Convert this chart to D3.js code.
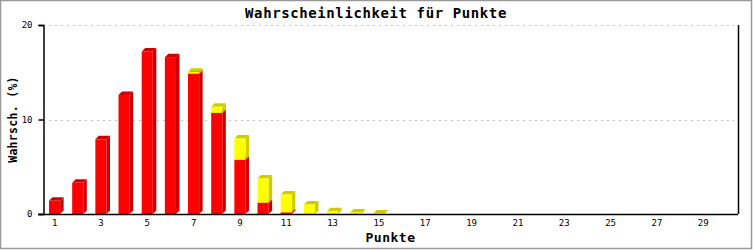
<!DOCTYPE html>
<html><head><meta charset="utf-8">
<script src="https://cdn.jsdelivr.net/npm/d3@7"></script>
<style>
html,body{margin:0;padding:0;background:#fff;}
svg{display:block;}
text{font-family:"DejaVu Sans Mono","Liberation Mono",monospace;fill:#000;}
</style></head>
<body>
<script>
const categories = d3.range(1, 31);
const tickLabels = [1,3,5,7,9,11,13,15,17,19,21,23,25,27,29];
const yTicks = [0, 10, 20];
const redValues = [1.39, 3.3, 7.9, 12.6, 17.2, 16.6, 14.85, 10.7, 5.73, 1.19, 0.17, 0, 0, 0, 0, 0, 0, 0, 0, 0, 0, 0, 0, 0, 0, 0, 0, 0, 0, 0];
const yellowValues = [0, 0, 0, 0, 0, 0, 0.2, 0.66, 2.25, 2.57, 1.9, 1.01, 0.28, 0.17, 0.05, 0, 0, 0, 0, 0, 0, 0, 0, 0, 0, 0, 0, 0, 0, 0];
const titleText = "Wahrscheinlichkeit für Punkte";
const xLabel = "Punkte";
const yLabel = "Wahrsch. (%)";

const W = 753, H = 250;
const m = {l: 43, r: 738, t: 25, b: 214};

const svg = d3.select("body").append("svg").attr("width", W).attr("height", H);

svg.append("rect").attr("x", 0.5).attr("y", 0.5).attr("width", 751).attr("height", 248)
  .attr("fill", "#fff").attr("stroke", "#999").attr("stroke-width", 1.5);

const x = d3.scaleBand().domain(categories).range([m.l, m.r]).paddingInner(0).paddingOuter(0);
const y = d3.scaleLinear().domain([0, 20]).range([m.b, m.t]);

// grid
svg.append("g").selectAll("line").data(yTicks.filter(d => d > 0)).join("line")
  .attr("x1", m.l).attr("x2", m.r - 4)
  .attr("y1", d => Math.round(y(d)) + 0.5).attr("y2", d => Math.round(y(d)) + 0.5)
  .attr("stroke", "#c0c0c0").attr("stroke-dasharray", "2,4");

// bars
const stack = d3.stack().keys(["red", "yellow"]);
const rows = categories.map((c, i) => ({cat: c, red: redValues[i], yellow: yellowValues[i]}));
const series = stack(rows);
const colors = {red: {front: "#ff0000", dark: "#cc0000"}, yellow: {front: "#ffff00", dark: "#cccc00"}};
const bw = x.bandwidth() * 0.48;
const d3d = 3.5;

const gBars = svg.append("g");
rows.forEach((r, i) => {
  series.forEach(s => {
    const seg = s[i];
    if (seg[1] - seg[0] <= 0) return;
    const col = colors[s.key];
    const x0 = x(r.cat) + x.bandwidth() / 2 - bw / 2;
    const x1 = x0 + bw;
    const yT = y(seg[1]), yB = y(seg[0]);
    gBars.append("polygon")
      .attr("points", [[x1, yB], [x1 + d3d, yB - d3d], [x1 + d3d, yT - d3d], [x1, yT]].map(p => p.join(",")).join(" "))
      .attr("fill", col.dark);
    gBars.append("polygon")
      .attr("points", [[x0, yT], [x0 + d3d, yT - d3d], [x1 + d3d, yT - d3d], [x1, yT]].map(p => p.join(",")).join(" "))
      .attr("fill", col.dark);
    gBars.append("rect").attr("x", x0).attr("y", yT).attr("width", bw).attr("height", yB - yT)
      .attr("fill", col.front);
  });
});

// axes
const yAxis = d3.axisLeft(y).tickValues(yTicks).tickSize(5).tickPadding(6).tickFormat(d3.format("d"));
const gy = svg.append("g").attr("transform", `translate(${m.l + 0.5},0)`).call(yAxis);
gy.select(".domain").attr("stroke", "#000").attr("stroke-width", 1.5);
gy.selectAll(".tick line").attr("stroke", "#000").attr("stroke-width", 1.5);
gy.selectAll("text").attr("font-size", 9).attr("font-family", "DejaVu Sans Mono");

const xAxis = d3.axisBottom(x).tickValues(tickLabels).tickSize(0).tickPadding(5);
const gx = svg.append("g").attr("transform", `translate(0,${m.b + 0.5})`).call(xAxis);
gx.select(".domain").attr("stroke", "#000").attr("stroke-width", 1.5)
  .attr("d", `M${m.l - 5},0H${m.r}`);
gx.selectAll("text").attr("font-size", 9).attr("font-family", "DejaVu Sans Mono");

svg.append("line").attr("x1", m.r + 0.5).attr("x2", m.r + 0.5).attr("y1", m.t).attr("y2", m.b)
  .attr("stroke", "#000").attr("stroke-width", 1.5);

// labels
svg.append("text").attr("x", 376).attr("y", 18).attr("text-anchor", "middle")
  .attr("font-size", 14).attr("font-weight", "bold").attr("letter-spacing", 0.6).text(titleText);
svg.append("text").attr("x", (m.l + m.r) / 2).attr("y", 242).attr("text-anchor", "middle")
  .attr("font-size", 13).attr("font-weight", "bold").attr("letter-spacing", 0.5).text(xLabel);
svg.append("text").attr("transform", `translate(16.5,${(m.t + m.b) / 2}) rotate(-90)`)
  .attr("text-anchor", "middle").attr("font-size", 11.5).attr("font-weight", "bold")
  .attr("letter-spacing", 0.3).text(yLabel);
</script>
</body></html>
